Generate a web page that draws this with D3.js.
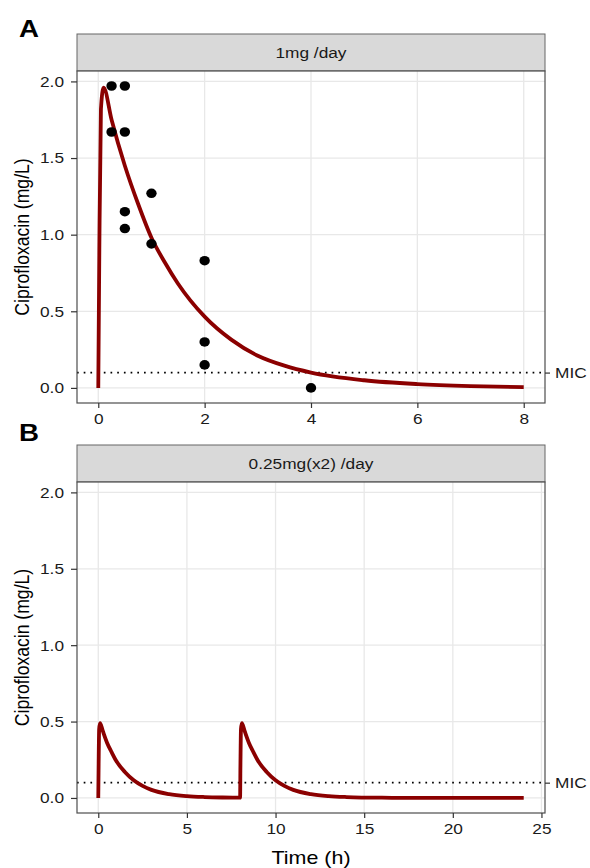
<!DOCTYPE html>
<html>
<head>
<meta charset="utf-8">
<script src="https://cdn.jsdelivr.net/npm/d3@7"></script>
<style>
  body { margin: 0; background: #fff; }
  svg { display: block; font-family: "Liberation Sans", Arial, Helvetica, sans-serif; }
</style>
</head>
<body>
<svg id="chart" width="590" height="868"></svg>
<script>
// ---- Data ----
const panelLabels = ["A", "B"];
const stripTitles = ["1mg /day", "0.25mg(x2) /day"];
const yTicks = [0, 0.5, 1.0, 1.5, 2.0];
const xTicksA = [0, 2, 4, 6, 8];
const xTicksB = [0, 5, 10, 15, 20, 25];
const micValue = 0.1;
const micLabel = "MIC";

// Observed concentrations (panel A)
const obsTime = [0.25, 0.25, 0.5, 0.5, 0.5, 0.5, 1, 1, 2, 2, 2, 4];
const obsConc = [1.97, 1.67, 1.97, 1.67, 1.15, 1.04, 1.27, 0.94, 0.83, 0.30, 0.15, 0.0];

// Predicted curve, panel A
const predTimeA = [0, 0.02, 0.05, 0.1, 0.25, 0.5, 0.75, 1, 1.25, 1.5, 2, 2.5, 3, 3.5, 4, 5, 6, 7, 8];
const predConcA = [0, 0.9, 1.82, 1.96, 1.75, 1.45, 1.2, 0.98, 0.82, 0.68, 0.465, 0.315, 0.21, 0.145, 0.10, 0.05, 0.025, 0.012, 0.005];

// Predicted curve, panel B
const predTimeB = [0, 0.02, 0.05, 0.1, 0.25, 0.5, 0.75, 1, 1.5, 2, 2.5, 3, 4, 5, 6, 7, 8,
                   8.02, 8.05, 8.1, 8.25, 8.5, 8.75, 9, 9.5, 10, 10.5, 11, 12, 13, 14, 16, 18, 20, 22, 24];
const predConcB = [0, 0.22, 0.45, 0.49, 0.44, 0.36, 0.30, 0.245, 0.17, 0.116, 0.079, 0.053, 0.025, 0.012, 0.006, 0.003, 0.0015,
                   0.22, 0.45, 0.49, 0.44, 0.36, 0.30, 0.245, 0.17, 0.116, 0.079, 0.053, 0.025, 0.012, 0.006, 0.0015, 0.0005, 0.0002, 0.0001, 0];

const yLabel = "Ciprofloxacin (mg/L)";
const xLabel = "Time (h)";

// ---- Drawing ----
const svg = d3.select("#chart");
const left = 77, right = 545;
const lineColor = "#8b0000";
const tickColor = "#333333";
const textColor = "#1a1a1a";
const SX = 1.13; // horizontal text stretch seen in the reference

function stretch(sel) {
  sel.each(function () {
    const t = d3.select(this);
    const x = +t.attr("x") || 0, y = +t.attr("y") || 0;
    t.attr("transform", `translate(${x},${y}) scale(${SX},1) translate(${-x},${-y})`);
  });
}

function drawPanel(cfg) {
  const g = svg.append("g");
  const x = d3.scaleLinear().domain(cfg.xDomain).range([left, right]);
  const y = d3.scaleLinear().domain([-0.0985, 2.068]).range([cfg.bottom, cfg.top]);

  // panel label
  svg.append("text").attr("x", 19).attr("y", cfg.labelY)
    .attr("font-size", 24.5).attr("font-weight", "bold").attr("fill", "#000")
    .text(cfg.label).call(stretch);

  // strip
  g.append("rect").attr("x", left).attr("y", cfg.stripTop)
    .attr("width", right - left).attr("height", cfg.top - cfg.stripTop)
    .attr("fill", "#d9d9d9").attr("stroke", "#666").attr("stroke-width", 1);
  g.append("text").attr("x", (left + right) / 2).attr("y", (cfg.stripTop + cfg.top) / 2 + 5.5)
    .attr("text-anchor", "middle").attr("font-size", 15.3).attr("fill", textColor)
    .text(cfg.strip).call(stretch);

  // panel bg
  g.append("rect").attr("x", left).attr("y", cfg.top)
    .attr("width", right - left).attr("height", cfg.bottom - cfg.top)
    .attr("fill", "#fff");

  // gridlines
  g.append("g").selectAll("line").data(cfg.xTicks).join("line")
    .attr("x1", d => x(d)).attr("x2", d => x(d))
    .attr("y1", cfg.top).attr("y2", cfg.bottom)
    .attr("stroke", "#e8e8e8").attr("stroke-width", 1.3);
  g.append("g").selectAll("line").data(yTicks).join("line")
    .attr("x1", left).attr("x2", right)
    .attr("y1", d => y(d)).attr("y2", d => y(d))
    .attr("stroke", "#e8e8e8").attr("stroke-width", 1.3);

  // MIC dotted line
  g.append("line").attr("x1", left).attr("x2", right)
    .attr("y1", y(micValue)).attr("y2", y(micValue))
    .attr("stroke", "#000").attr("stroke-width", 1.7)
    .attr("stroke-dasharray", "1.7,5");

  // curve
  const line = d3.line().x(d => x(d[0])).y(d => y(d[1])).curve(d3.curveMonotoneX);
  g.append("path").datum(d3.zip(cfg.predT, cfg.predC))
    .attr("d", line).attr("fill", "none")
    .attr("stroke", lineColor).attr("stroke-width", 3.8)
    .attr("stroke-linejoin", "round");

  // points
  if (cfg.obsT) {
    g.append("g").selectAll("ellipse").data(d3.zip(cfg.obsT, cfg.obsC)).join("ellipse")
      .attr("cx", d => x(d[0])).attr("cy", d => y(d[1])).attr("rx", 5.2).attr("ry", 4.8)
      .attr("fill", "#000");
  }

  // panel border
  g.append("rect").attr("x", left).attr("y", cfg.top)
    .attr("width", right - left).attr("height", cfg.bottom - cfg.top)
    .attr("fill", "none").attr("stroke", "#4d4d4d").attr("stroke-width", 1.2);

  // axes
  const xAxis = d3.axisBottom(x).tickValues(cfg.xTicks).tickFormat(d3.format("d"))
    .tickSize(5).tickPadding(5);
  const gx = g.append("g").attr("transform", `translate(0,${cfg.bottom})`).call(xAxis);
  const yAxis = d3.axisLeft(y).tickValues(yTicks).tickFormat(d3.format(".1f"))
    .tickSize(6).tickPadding(7);
  const gy = g.append("g").attr("transform", `translate(${left},0)`).call(yAxis);
  const rAxis = d3.axisRight(y).tickValues([micValue]).tickFormat(() => micLabel)
    .tickSize(5).tickPadding(5);
  const gr = g.append("g").attr("transform", `translate(${right},0)`).call(rAxis);
  [gx, gy, gr].forEach(a => {
    a.select(".domain").remove();
    a.selectAll(".tick line").attr("stroke", tickColor).attr("stroke-width", 1.2);
    a.selectAll(".tick text").attr("fill", textColor).attr("font-size", 15.3)
      .attr("font-family", "'Liberation Sans', Arial, sans-serif").call(stretch);
  });

  // y title
  svg.append("text")
    .attr("transform", `translate(29,${(cfg.top + cfg.bottom) / 2}) scale(${SX},1) rotate(-90)`)
    .attr("text-anchor", "middle").attr("font-size", 17.6).attr("fill", "#000")
    .text(yLabel);

  if (cfg.xTitle) {
    svg.append("text").attr("x", (left + right) / 2).attr("y", 864)
      .attr("text-anchor", "middle").attr("font-size", 19).attr("fill", "#000")
      .text(cfg.xTitle).call(stretch);
  }
}

drawPanel({
  label: panelLabels[0], labelY: 37, strip: stripTitles[0],
  stripTop: 34, top: 71, bottom: 403,
  xDomain: [-0.4, 8.4], xTicks: xTicksA,
  predT: predTimeA, predC: predConcA, obsT: obsTime, obsC: obsConc
});
drawPanel({
  label: panelLabels[1], labelY: 441, strip: stripTitles[1],
  stripTop: 445, top: 482, bottom: 813,
  xDomain: [-1.2, 25.2], xTicks: xTicksB,
  predT: predTimeB, predC: predConcB, xTitle: xLabel
});
</script>
</body>
</html>
